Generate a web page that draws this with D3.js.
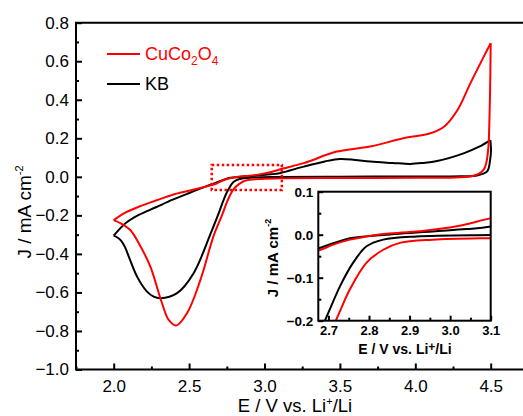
<!DOCTYPE html>
<html>
<head>
<meta charset="utf-8">
<script src="https://cdn.jsdelivr.net/npm/d3@7"></script>
<style>
  html, body { margin: 0; padding: 0; background: #fff; }
  svg { display: block; font-family: Arial, "Liberation Sans", sans-serif; }
</style>
</head>
<body>
<svg id="svg"></svg>
<script>
const W = 523, H = 416;

// CuCo2O4 anodic scan (2.0 -> 4.5 V)
const cucoAnE = [2.0, 2.08, 2.166, 2.28, 2.387, 2.5, 2.608, 2.675, 2.712, 2.753, 2.794, 2.835, 2.9, 2.957, 3.03, 3.1, 3.26, 3.48, 3.7, 3.92, 4.1, 4.19, 4.28, 4.365, 4.454, 4.5];
const cucoAnJ = [-0.225, -0.185, -0.155, -0.123, -0.094, -0.072, -0.051, -0.037, -0.023, -0.0115, -0.004, 0.0015, 0.006, 0.0115, 0.022, 0.0385, 0.071, 0.131, 0.157, 0.2, 0.226, 0.26, 0.347, 0.485, 0.624, 0.693];
// CuCo2O4 cathodic scan (4.5 -> 2.0 V)
const cucoCaE = [4.5, 4.496, 4.49, 4.485, 4.47, 4.454, 4.42, 4.387, 4.3, 4.0, 3.5, 3.1, 2.957, 2.876, 2.835, 2.794, 2.753, 2.719, 2.661, 2.575, 2.487, 2.415, 2.365, 2.32, 2.243, 2.17, 2.11, 2.05, 2.0];
const cucoCaJ = [0.693, 0.45, 0.25, 0.157, 0.07, 0.037, 0.015, 0.006, -0.002, -0.005, -0.006, -0.008, -0.0115, -0.019, -0.035, -0.065, -0.127, -0.198, -0.31, -0.535, -0.707, -0.772, -0.743, -0.655, -0.466, -0.35, -0.276, -0.243, -0.225];

// KB anodic scan
const kbAnE = [2.0, 2.04, 2.078, 2.166, 2.28, 2.387, 2.497, 2.608, 2.675, 2.712, 2.753, 2.835, 2.957, 3.04, 3.1, 3.26, 3.4, 3.5, 3.6, 3.702, 3.85, 3.967, 4.05, 4.144, 4.32, 4.42, 4.498];
const kbAnJ = [-0.305, -0.27, -0.241, -0.198, -0.158, -0.12, -0.085, -0.051, -0.032, -0.02, -0.0085, -0.0008, 0.0077, 0.013, 0.019, 0.053, 0.08, 0.093, 0.088, 0.079, 0.072, 0.067, 0.072, 0.082, 0.122, 0.155, 0.191];
// KB cathodic scan
const kbCaE = [4.498, 4.502, 4.496, 4.476, 4.41, 4.3, 4.0, 3.5, 3.1, 2.917, 2.835, 2.794, 2.761, 2.729, 2.692, 2.64, 2.53, 2.42, 2.31, 2.265, 2.221, 2.155, 2.1, 2.075, 2.05, 2.025, 2.0];
const kbCaJ = [0.191, 0.14, 0.087, 0.028, 0.007, 0.003, 0.002, 0.001, -0.0007, -0.004, -0.0115, -0.027, -0.065, -0.119, -0.198, -0.30, -0.50, -0.604, -0.63, -0.622, -0.596, -0.518, -0.414, -0.365, -0.332, -0.315, -0.305];

const xTicks = [2.0, 2.5, 3.0, 3.5, 4.0, 4.5];
const yTicks = [-1.0, -0.8, -0.6, -0.4, -0.2, 0.0, 0.2, 0.4, 0.6, 0.8];
const inXTicks = [2.7, 2.8, 2.9, 3.0, 3.1];
const inYTicks = [-0.2, -0.1, 0.0, 0.1];
const zoomBoxE = [2.65, 3.115];
const zoomBoxJ = [-0.068, 0.062];

const RED = "#ff0000";
const svg = d3.select("#svg").attr("width", W).attr("height", H);

const zip = (xs, ys) => xs.map((v, i) => [v, ys[i]]);
const series = [
    { color: RED, an: zip(cucoAnE, cucoAnJ), ca: zip(cucoCaE, cucoCaJ) },
    { color: "#000", an: zip(kbAnE, kbAnJ), ca: zip(kbCaE, kbCaJ) }
];

// main plot
const x = d3.scaleLinear().domain([1.75, 4.75]).range([76, 528.4]);
const y = d3.scaleLinear().domain([-1.0, 0.8]).range([369.5, 22.7]);

const defs = svg.append("defs");
defs.append("clipPath").attr("id", "mainClip").append("rect")
    .attr("x", x(1.75)).attr("y", y(0.8)).attr("width", x(4.75) - x(1.75)).attr("height", y(-1) - y(0.8));

function drawCurves(g, sx, sy, w) {
    const line = d3.line().x(d => sx(d[0])).y(d => sy(d[1])).curve(d3.curveCatmullRom.alpha(0.5));
    // black first, red on top
    series.slice().reverse().forEach(s => {
        [s.an, s.ca].forEach(pts => {
            g.append("path").attr("d", line(pts)).attr("fill", "none")
                .attr("stroke", s.color).attr("stroke-width", w).attr("stroke-linejoin", "round");
        });
    });
}

const main = svg.append("g").attr("clip-path", "url(#mainClip)");
drawCurves(main, x, y, 2);

// zoom box
svg.append("rect")
    .attr("x", x(zoomBoxE[0])).attr("y", y(zoomBoxJ[1]))
    .attr("width", x(zoomBoxE[1]) - x(zoomBoxE[0])).attr("height", y(zoomBoxJ[0]) - y(zoomBoxJ[1]))
    .attr("fill", "none").attr("stroke", RED).attr("stroke-width", 2.5).attr("stroke-dasharray", "2.5,2.5");

// main axes
const xAxis = d3.axisBottom(x).tickValues(xTicks).tickSize(-6).tickFormat(d3.format(".1f")).tickPadding(10);
const xMinor = d3.axisBottom(x).tickValues(d3.range(1.75, 4.76, 0.5)).tickSize(-3).tickFormat("");
const yAxis = d3.axisLeft(y).tickValues(yTicks).tickSize(-6).tickFormat(d3.format(".1f")).tickPadding(7);
const yMinor = d3.axisLeft(y).tickValues(d3.range(-0.9, 0.8, 0.2)).tickSize(-3).tickFormat("");

function styleAxis(g, fs, bold) {
    g.select(".domain").remove();
    g.selectAll("line").attr("stroke", "#000").attr("stroke-width", 2);
    g.selectAll("text").attr("font-size", fs).attr("fill", "#000")
        .attr("font-family", "Arial, 'Liberation Sans', sans-serif")
        .attr("font-weight", bold ? "bold" : "normal");
}

svg.append("g").attr("transform", `translate(0,${y(-1)})`).call(xAxis).call(g => styleAxis(g, 17, false));
svg.append("g").attr("transform", `translate(0,${y(-1)})`).call(xMinor).call(g => styleAxis(g, 17, false));
svg.append("g").attr("transform", `translate(${x(1.75)},0)`).call(yAxis).call(g => styleAxis(g, 17, false));
svg.append("g").attr("transform", `translate(${x(1.75)},0)`).call(yMinor).call(g => styleAxis(g, 17, false));

// frame
svg.append("path")
    .attr("d", `M${x(4.75)},${y(0.8)}H${x(1.75)}V${y(-1)}H${x(4.75)}`)
    .attr("fill", "none").attr("stroke", "#000").attr("stroke-width", 2);

// axis titles
const xt = svg.append("text").attr("x", 295).attr("y", 412).attr("text-anchor", "middle")
    .attr("font-size", 18.5).text("E / V vs. Li");
xt.append("tspan").attr("dy", -7).attr("font-size", 11).text("+");
xt.append("tspan").attr("dy", 7).text("/Li");

const yt = svg.append("text").attr("transform", "translate(31,212) rotate(-90)")
    .attr("text-anchor", "middle").attr("font-size", 19).text("J / mA cm");
yt.append("tspan").attr("dy", -8).attr("font-size", 11).text("-2");

// legend
const leg = svg.append("g");
leg.append("line").attr("x1", 107).attr("x2", 140).attr("y1", 54).attr("y2", 54).attr("stroke", RED).attr("stroke-width", 2);
const lt = leg.append("text").attr("x", 145).attr("y", 60).attr("font-size", 18).attr("fill", RED).text("CuCo");
lt.append("tspan").attr("dy", 5).attr("font-size", 12).text("2");
lt.append("tspan").attr("dy", -5).text("O");
lt.append("tspan").attr("dy", 5).attr("font-size", 12).text("4");
leg.append("line").attr("x1", 107).attr("x2", 140).attr("y1", 84).attr("y2", 84).attr("stroke", "#000").attr("stroke-width", 2);
leg.append("text").attr("x", 145).attr("y", 90).attr("font-size", 18).text("KB");

// inset
const ix = d3.scaleLinear().domain([2.675, 3.1]).range([318.3, 490.7]);
const iy = d3.scaleLinear().domain([-0.2, 0.1]).range([320.7, 191.7]);

defs.append("clipPath").attr("id", "inClip").append("rect")
    .attr("x", ix(2.675)).attr("y", iy(0.1)).attr("width", ix(3.1) - ix(2.675)).attr("height", iy(-0.2) - iy(0.1));

svg.append("rect").attr("x", ix(2.675)).attr("y", iy(0.1))
    .attr("width", ix(3.1) - ix(2.675)).attr("height", iy(-0.2) - iy(0.1)).attr("fill", "#fff");

const inG = svg.append("g").attr("clip-path", "url(#inClip)");
drawCurves(inG, ix, iy, 2);

const ixAxis = d3.axisBottom(ix).tickValues(inXTicks).tickSize(-5).tickFormat(d3.format(".1f")).tickPadding(5);
const ixMinor = d3.axisBottom(ix).tickValues([2.75, 2.85, 2.95, 3.05]).tickSize(-3).tickFormat("");
const iyAxis = d3.axisLeft(iy).tickValues(inYTicks).tickSize(-5).tickFormat(d3.format(".1f")).tickPadding(5);
const iyMinor = d3.axisLeft(iy).tickValues([-0.15, -0.05, 0.05]).tickSize(-3).tickFormat("");

svg.append("g").attr("transform", `translate(0,${iy(-0.2)})`).call(ixAxis).call(g => styleAxis(g, 13, true));
svg.append("g").attr("transform", `translate(0,${iy(-0.2)})`).call(ixMinor).call(g => styleAxis(g, 13, true));
svg.append("g").attr("transform", `translate(${ix(2.675)},0)`).call(iyAxis).call(g => styleAxis(g, 13.5, true));
svg.append("g").attr("transform", `translate(${ix(2.675)},0)`).call(iyMinor).call(g => styleAxis(g, 13.5, true));

svg.append("rect").attr("x", ix(2.675)).attr("y", iy(0.1))
    .attr("width", ix(3.1) - ix(2.675)).attr("height", iy(-0.2) - iy(0.1))
    .attr("fill", "none").attr("stroke", "#000").attr("stroke-width", 2);

const ixt = svg.append("text").attr("x", 405).attr("y", 354).attr("text-anchor", "middle")
    .attr("font-size", 14).attr("font-weight", "bold").text("E / V vs. Li");
ixt.append("tspan").attr("dy", -3).attr("font-size", 12).text("+");
ixt.append("tspan").attr("dy", 3).text("/Li");

const iyt = svg.append("text").attr("transform", "translate(278,258) rotate(-90)")
    .attr("text-anchor", "middle").attr("font-size", 15).attr("font-weight", "bold").text("J / mA cm");
iyt.append("tspan").attr("dy", -7).attr("font-size", 9).text("-2");
</script>
</body>
</html>
